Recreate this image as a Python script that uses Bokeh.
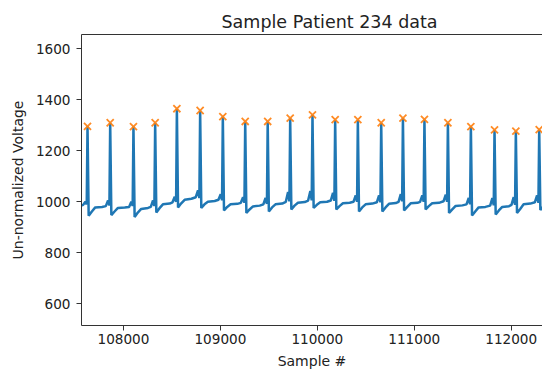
from bokeh.plotting import figure
from bokeh.models import Range1d, FixedTicker, LinearAxis, Title, BasicTickFormatter
from bokeh.embed import file_html
from bokeh.resources import INLINE

# ---- data ----
peak_samples = [107629, 107863, 108103, 108327, 108551, 108791, 109025, 109256, 109488, 109720,
                109950, 110184, 110418, 110659, 110883, 111105, 111347, 111584, 111828, 112048,
                112289, 112500]
peak_values = [1296, 1310, 1295, 1310, 1365, 1358, 1334, 1315, 1315, 1328,
               1341, 1322, 1322, 1310, 1328, 1323, 1310, 1295, 1282, 1277,
               1283, 1280]

ecg_samples = [
    107540, 107584, 107607, 107621, 107629, 107641, 107674, 107709, 107779,
    107818, 107841, 107855, 107863, 107875, 107908, 107943, 108013,
    108058, 108081, 108095, 108103, 108115, 108148, 108183, 108253,
    108282, 108305, 108319, 108327, 108339, 108372, 108407, 108477,
    108506, 108529, 108543, 108551, 108563, 108596, 108631, 108701,
    108746, 108769, 108783, 108791, 108803, 108836, 108871, 108941,
    108980, 109003, 109017, 109025, 109037, 109070, 109105, 109175,
    109211, 109234, 109248, 109256, 109268, 109301, 109336, 109406,
    109443, 109466, 109480, 109488, 109500, 109533, 109568, 109638,
    109675, 109698, 109712, 109720, 109732, 109765, 109800, 109870,
    109905, 109928, 109942, 109950, 109962, 109995, 110030, 110100,
    110139, 110162, 110176, 110184, 110196, 110229, 110264, 110334,
    110373, 110396, 110410, 110418, 110430, 110463, 110498, 110568,
    110614, 110637, 110651, 110659, 110671, 110704, 110739, 110809,
    110838, 110861, 110875, 110883, 110895, 110928, 110963, 111033,
    111060, 111083, 111097, 111105, 111117, 111150, 111185, 111255,
    111302, 111325, 111339, 111347, 111359, 111392, 111427, 111497,
    111539, 111562, 111576, 111584, 111596, 111629, 111664, 111734,
    111783, 111806, 111820, 111828, 111840, 111873, 111908, 111978,
    112003, 112026, 112040, 112048, 112060, 112093, 112128, 112198,
    112244, 112267, 112281, 112289, 112301, 112334, 112369, 112439,
    112455, 112478, 112492, 112500, 112512, 112545,
]
ecg_values = [
    982, 988, 1000, 990, 1296, 945, 962, 978, 980,
    983, 1005, 986, 1310, 948, 962, 976, 978,
    980, 1000, 984, 1295, 940, 958, 972, 976,
    980, 1005, 984, 1310, 958, 975, 990, 993,
    998, 1020, 1000, 1365, 978, 994, 1008, 1012,
    1018, 1045, 1015, 1358, 976, 990, 1000, 1003,
    1008, 1030, 1006, 1334, 966, 980, 990, 992,
    996, 1018, 996, 1315, 956, 970, 982, 985,
    990, 1015, 992, 1315, 962, 978, 990, 993,
    1000, 1038, 1002, 1328, 970, 985, 996, 999,
    1005, 1042, 1006, 1341, 976, 988, 998, 1000,
    1005, 1035, 1004, 1322, 970, 983, 994, 996,
    1000, 1025, 1000, 1322, 962, 978, 990, 993,
    998, 1025, 998, 1310, 962, 978, 992, 995,
    1000, 1030, 1002, 1328, 966, 980, 994, 996,
    1000, 1025, 1000, 1323, 970, 983, 994, 996,
    1002, 1028, 1000, 1310, 956, 970, 984, 986,
    990, 1015, 990, 1295, 946, 962, 978, 980,
    985, 1015, 986, 1282, 950, 966, 980, 983,
    988, 1018, 988, 1277, 956, 972, 990, 993,
    998, 1025, 996, 1283, 968, 982, 996, 998,
    1000, 1015, 998, 1280, 960, 975,
]

x_ticks = [108000, 109000, 110000, 111000, 112000]
y_ticks = [600, 800, 1000, 1200, 1400, 1600]

title_text = "Sample Patient 234 data"
x_label = "Sample #"
y_label = "Un-normalized Voltage"

TEXT = "#222222"
SPINE = "#333333"

p = figure(width=542, height=371, output_backend="svg", toolbar_location=None,
           x_range=Range1d(107567, 112323), y_range=Range1d(515, 1656),
           min_border_left=81, min_border_right=0, min_border_top=34, min_border_bottom=46,
           background_fill_color="white", border_fill_color="white")

p.title = Title(text=title_text, align="left", offset=140, text_font="DejaVu Sans",
                text_font_size="17.5px", text_font_style="normal", text_color=TEXT, standoff=5)

p.line(ecg_samples, ecg_values, line_color="#1f77b4", line_width=2.5)
p.scatter(peak_samples, peak_values, marker="x", size=10, line_color="#ff7f0e",
          line_width=1.8, line_alpha=0.9)

p.grid.visible = False
p.outline_line_color = None

for ax in (p.xaxis[0], p.yaxis[0]):
    ax.axis_line_color = SPINE
    ax.axis_line_width = 1
    ax.major_tick_line_color = SPINE
    ax.major_tick_out = 5
    ax.major_tick_in = 0
    ax.minor_tick_line_color = None
    ax.major_label_text_font = "DejaVu Sans"
    ax.major_label_text_font_size = "13.6px"
    ax.major_label_text_color = TEXT
    ax.axis_label_text_font = "DejaVu Sans"
    ax.axis_label_text_font_size = "14px"
    ax.axis_label_text_font_style = "normal"
    ax.axis_label_text_color = TEXT

p.xaxis[0].ticker = FixedTicker(ticks=x_ticks)
p.xaxis[0].formatter = BasicTickFormatter(use_scientific=False)
p.yaxis[0].ticker = FixedTicker(ticks=y_ticks)
p.xaxis[0].axis_label = x_label
p.yaxis[0].axis_label = y_label
p.xaxis[0].major_label_standoff = 3
p.xaxis[0].axis_label_standoff = 6
p.yaxis[0].major_label_standoff = 6
p.yaxis[0].axis_label_standoff = 7

top = LinearAxis(ticker=FixedTicker(ticks=[]), axis_line_color=SPINE, axis_line_width=1,
                 major_tick_out=0, major_tick_in=0, minor_tick_out=0, minor_tick_in=0,
                 major_label_standoff=0, major_label_text_font_size="0px")
p.add_layout(top, "above")

open("out.html", "w").write(file_html(p, INLINE))
